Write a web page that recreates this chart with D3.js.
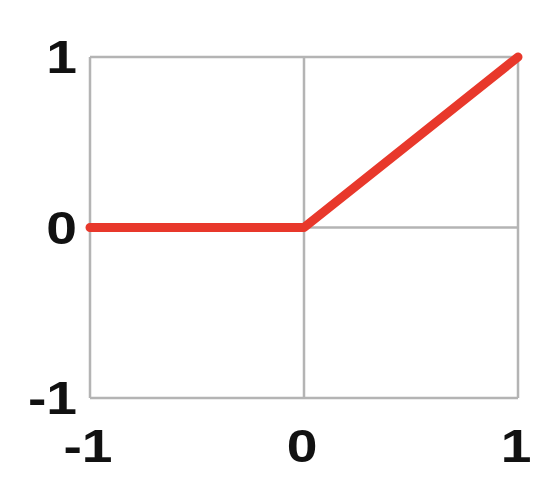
<!DOCTYPE html>
<html>
<head>
<meta charset="utf-8">
<script src="https://cdn.jsdelivr.net/npm/d3@7"></script>
<style>
  body { margin: 0; background: white; }
</style>
</head>
<body>
<div id="chart"></div>
<script>

var xTicks = [-1, 0, 1];
var yTicks = [-1, 0, 1];
var xValues = [-1, 0, 1];
var yValues = [0, 0, 1];

var width = 550, height = 493;
var margin = {top: 57, right: 32, bottom: 95, left: 90};
var fontFamily = "'Liberation Sans', Arial, sans-serif";

var svg = d3.select("#chart")
    .append("svg")
    .attr("width", width)
    .attr("height", height);

svg.append("rect")
    .attr("width", "100%")
    .attr("height", "100%")
    .attr("fill", "white");

var x = d3.scaleLinear().domain([-1, 1]).range([margin.left, width - margin.right]);
var y = d3.scaleLinear().domain([-1, 1]).range([height - margin.bottom, margin.top]);

// grid lines
var grid = svg.append("g")
    .attr("stroke", "#b4b4b4")
    .attr("stroke-width", 2.5);

grid.selectAll(".vx")
    .data(xTicks)
    .enter().append("line")
    .attr("x1", function(d) { return x(d); })
    .attr("x2", function(d) { return x(d); })
    .attr("y1", y(-1))
    .attr("y2", y(1));

grid.selectAll(".hy")
    .data(yTicks)
    .enter().append("line")
    .attr("y1", function(d) { return y(d); })
    .attr("y2", function(d) { return y(d); })
    .attr("x1", x(-1))
    .attr("x2", x(1));

// relu line
var pts = xValues.map(function(v, i) { return [v, yValues[i]]; });

svg.append("path")
    .datum(pts)
    .attr("fill", "none")
    .attr("stroke", "#e8382b")
    .attr("stroke-width", 9)
    .attr("stroke-linejoin", "round")
    .attr("stroke-linecap", "round")
    .attr("d", d3.line()
        .x(function(d) { return x(d[0]); })
        .y(function(d) { return y(d[1]); }));

// tick labels (glyphs in the picture are stretched sideways)
svg.append("g")
    .selectAll("text")
    .data(yTicks)
    .enter().append("text")
    .attr("transform", function(d) { return "translate(77," + (y(d) + 16) + ") scale(1.2,1)"; })
    .attr("text-anchor", "end")
    .attr("font-family", fontFamily)
    .attr("font-weight", "bold")
    .attr("font-size", 46)
    .attr("fill", "#111")
    .text(function(d) { return d; });

svg.append("g")
    .selectAll("text")
    .data(xTicks)
    .enter().append("text")
    .attr("transform", function(d) { return "translate(" + (x(d) - 2) + ",462) scale(1.2,1)"; })
    .attr("text-anchor", "middle")
    .attr("font-family", fontFamily)
    .attr("font-weight", "bold")
    .attr("font-size", 46)
    .attr("fill", "#111")
    .text(function(d) { return d; });

</script>
</body>
</html>
